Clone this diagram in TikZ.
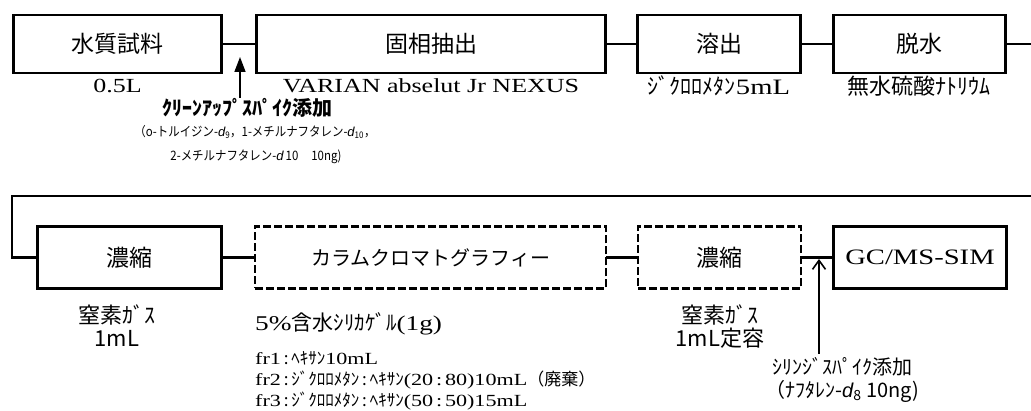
\documentclass[tikz,border=0pt]{standalone}
\usepackage{fontspec}
\usetikzlibrary{arrows.meta}
\setmainfont{Liberation Serif}
\newfontfamily\jpf{Noto Sans CJK JP}
\newfontfamily\jpc[FakeStretch=0.88]{Noto Sans CJK JP}
\newfontfamily\wsr[FakeStretch=1.3]{Liberation Serif}
\newfontfamily\sitf{Liberation Sans}
\newcommand{\fsz}[1]{\fontsize{#1}{#1}\selectfont}
\newcommand{\dd}{{\sitf\itshape d}}
\tikzset{
  box/.style={draw, line width=2.8pt, inner sep=0pt, outer sep=0pt, minimum height=58pt, font=\jpf\fsz{23}},
  dbox/.style={draw, line width=2.2pt, dash pattern=on 8pt off 3pt, inner sep=0pt, outer sep=0pt, minimum height=62pt, font=\jpf\fsz{23}},
  conn/.style={line width=2.8pt},
  lab/.style={inner sep=0pt, font=\jpf\fsz{22}},
  small/.style={inner sep=0pt, font=\jpf\fsz{17}},
}
\begin{document}
\begin{tikzpicture}[x=1pt,y=-1pt]
\useasboundingbox (0,0) rectangle (1031,411);
\clip (0,0) rectangle (1031,411);
% row 1
\node[box, minimum width=208pt] (b1) at (117.5,44) {水質試料};
\node[box, minimum width=349pt] (b2) at (431,44) {固相抽出};
\node[box, minimum width=163pt] (b3) at (719,44) {溶出};
\node[box, minimum width=172pt] (b4) at (919.5,44) {脱水};
% row 2
\node[box, minimum height=62pt, minimum width=184pt] (c1) at (129.5,257.5) {濃縮};
\node[dbox, minimum width=351pt, font=\jpf\fsz{20}] (c2) at (430.5,257.5) {カラムクロマトグラフィー};
\node[dbox, minimum width=163pt] (c3) at (719.5,257.5) {濃縮};
\node[box, minimum height=62pt, minimum width=173pt, font=\wsr\fsz{22}] (c4) at (920,257.5) {GC/MS-SIM};
% connectors
\draw[conn] (b1) -- (b2);
\draw[conn] (b2) -- (b3);
\draw[conn] (b3) -- (b4);
\coordinate (edge) at (1045,44);
\draw[conn] (b4.east) -- (edge) |- (12,196) |- (c1.west);
\draw[conn] (c1) -- (c2);
\draw[conn] (c2) -- (c3);
\draw[conn] (c3) -- (c4);
% labels row 1
\node[lab, font=\wsr\fsz{20}] (l1) at (117.5,86) {0.5L};
\node[lab, font=\wsr\fsz{20}] (l2) at (431,86) {VARIAN abselut Jr NEXUS};
\node[lab] (l3) at (719,86) {ｼﾞｸﾛﾛﾒﾀﾝ{\wsr 5mL}};
\node[lab] (l4) at (919,86) {無水硫酸ﾅﾄﾘｳﾑ};
% spike 1
\node[lab, font=\jpf\bfseries\fsz{20}] (s1) at (247,108) {ｸﾘｰﾝｱｯﾌﾟｽﾊﾟｲｸ添加};
\node[small, font=\jpc\fsz{13}] (s2) at (255,132) {（o-トルイジン-\dd\textsubscript{9}，1-メチルナフタレン-\dd\textsubscript{10}，};
\node[small, font=\jpc\fsz{13}] (s3) at (256,157) {2-メチルナフタレン-\dd\,10\quad 10ng)};
\coordinate (a1s) at (240,98);
\coordinate (a1t) at (240,57);
\draw[line width=1.6pt, -{Triangle[length=15pt,width=11pt]}] (a1s) -- (a1t);
% labels row 2
\node[lab] (m1) at (117,315) {窒素ｶﾞｽ};
\node[lab] (m2) at (117,338) {1mL};
\node[lab] (m3) at (720,315) {窒素ｶﾞｽ};
\node[lab] (m4) at (720,338) {1mL定容};
\node[lab, anchor=west, font=\jpf\fsz{21}] (k1) at (255,324) {{\wsr 5\%}含水ｼﾘｶｹﾞﾙ{\wsr (1g)}};
\node[small, anchor=west] (f1) at (255,358) {{\wsr fr1}\,:\,ﾍｷｻﾝ{\wsr 10mL}};
\node[small, anchor=west] (f2) at (255,380) {{\wsr fr2}\,:\,ｼﾞｸﾛﾛﾒﾀﾝ\,:\,ﾍｷｻﾝ{\wsr (20\,:\,80)10mL}（廃棄）};
\node[small, anchor=west] (f3) at (255,401) {{\wsr fr3}\,:\,ｼﾞｸﾛﾛﾒﾀﾝ\,:\,ﾍｷｻﾝ{\wsr (50\,:\,50)15mL}};
% spike 2
\node[lab, font=\jpf\fsz{20}] (t1) at (842,367) {ｼﾘﾝｼﾞｽﾊﾟｲｸ添加};
\node[lab, font=\jpf\fsz{20}] (t2) at (842,391) {（ﾅﾌﾀﾚﾝ-\dd\textsubscript{8} 10ng)};
\coordinate (a2s) at (819,354);
\coordinate (a2t) at (819,259);
\draw[line width=1.6pt, -{Straight Barb[length=9pt,width=13pt]}] (a2s) -- (a2t);
\end{tikzpicture}
\end{document}
